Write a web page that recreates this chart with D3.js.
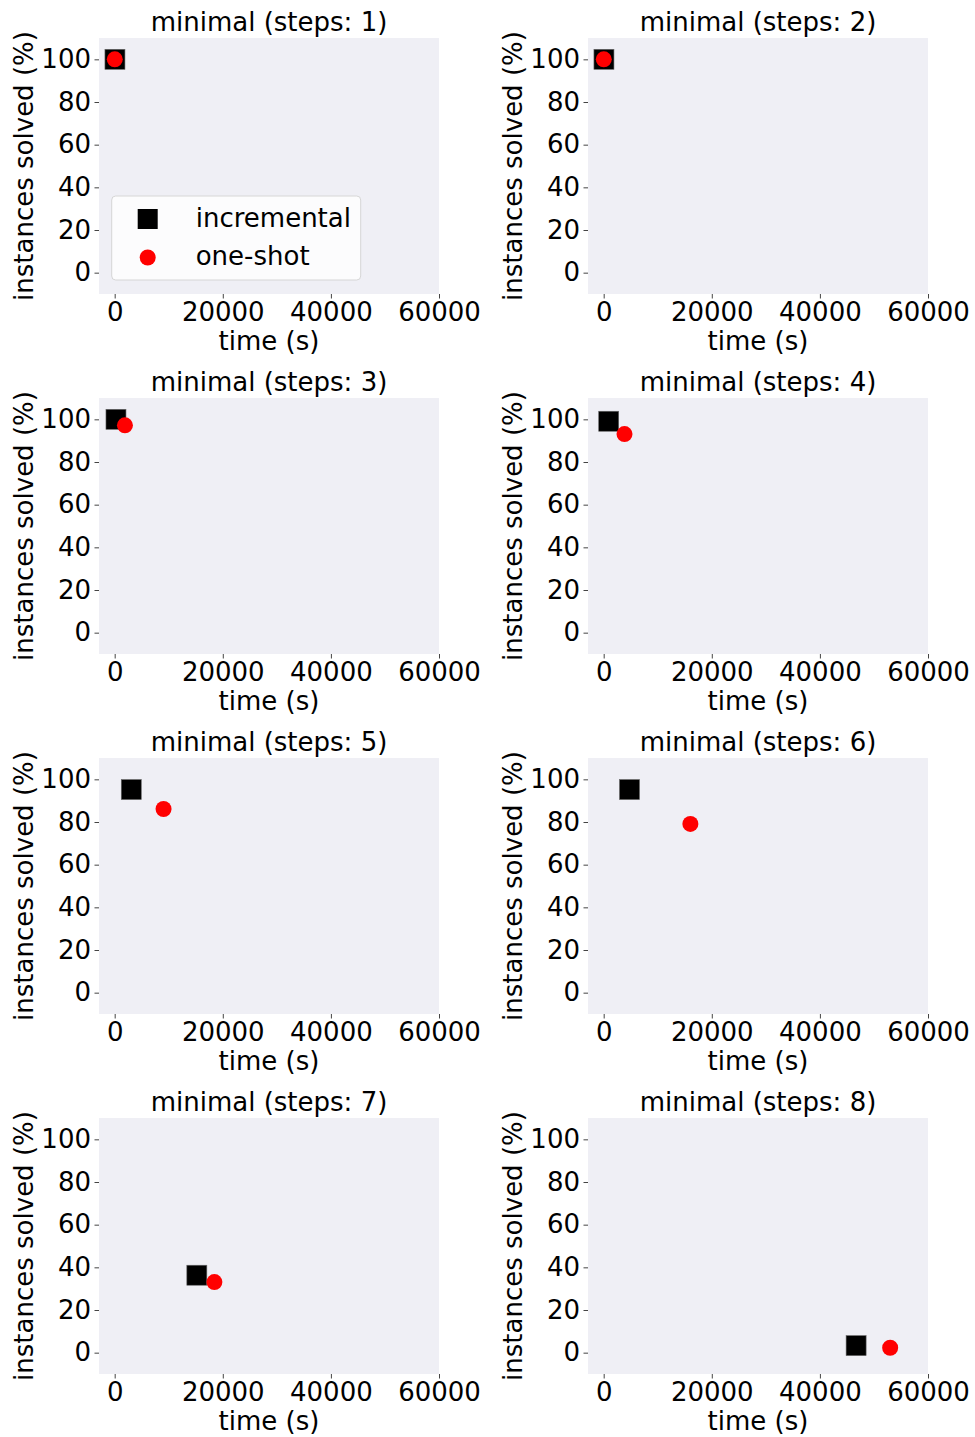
<!DOCTYPE html>
<html>
<head>
<meta charset="utf-8">
<script src="https://cdn.jsdelivr.net/npm/d3@7"></script>
<style>
  body { margin: 0; background: #fff; }
  svg text { font-family: "DejaVu Sans", sans-serif; fill: #000; }
</style>
</head>
<body>
<div id="chart"></div>
<script>
// steps per panel, and solved time / percentage for each approach
const steps = [1, 2, 3, 4, 5, 6, 7, 8];
const incTime = [50, 50, 240, 930, 3070, 4780, 15200, 46700];
const incSolved = [100, 100, 100, 99.1, 95.2, 95.2, 36.3, 3.3];
const oneTime = [20, 20, 1900, 3850, 9040, 16040, 18450, 53000];
const oneSolved = [100, 100, 97.2, 93.1, 86.1, 79.1, 33.1, 2.3];
const xTicks = [0, 20000, 40000, 60000];
const yTicks = [0, 20, 40, 60, 80, 100];

const width = 975, height = 1437;
const colLeft = [99, 588], rowTop = [38, 398, 758, 1118];
const pw = 340, ph = 256;
const fs = 26;

const svg = d3.select("#chart").append("svg")
  .attr("width", width).attr("height", height);

const x = d3.scaleLinear().domain([-2900, 60000]).range([0, pw]);
const y = d3.scaleLinear().domain([-10, 110]).range([ph, 0]);

steps.forEach((s, i) => {
  const g = svg.append("g")
    .attr("transform", `translate(${colLeft[i % 2]},${rowTop[Math.floor(i / 2)]})`);

  g.append("rect").attr("width", pw).attr("height", ph).attr("fill", "#efeff5");

  const xa = g.append("g").attr("transform", `translate(0,${ph})`)
    .call(d3.axisBottom(x).tickValues(xTicks).tickSize(4.5).tickPadding(4.5).tickFormat(d3.format("d")));
  const ya = g.append("g")
    .call(d3.axisLeft(y).tickValues(yTicks).tickSize(4.5).tickPadding(3.5));
  [xa, ya].forEach(a => {
    a.select(".domain").remove();
    a.selectAll(".tick line").attr("stroke", "#444").attr("stroke-width", 1);
    a.selectAll(".tick text").attr("font-size", fs).attr("fill", "#000")
      .style("font-family", "DejaVu Sans");
  });

  g.append("text").attr("x", pw / 2).attr("y", -7)
    .attr("text-anchor", "middle").attr("font-size", fs)
    .text(`minimal (steps: ${s})`);
  g.append("text").attr("x", pw / 2).attr("y", ph + 56)
    .attr("text-anchor", "middle").attr("font-size", fs).text("time (s)");
  g.append("text").attr("transform", `translate(-66,${ph / 2}) rotate(-90)`)
    .attr("text-anchor", "middle").attr("font-size", fs).text("instances solved (%)");

  g.append("rect")
    .attr("x", x(incTime[i]) - 10).attr("y", y(incSolved[i]) - 10)
    .attr("width", 20).attr("height", 20)
    .attr("fill", "#000").attr("stroke", "#666").attr("stroke-width", 0.6);
  g.append("circle")
    .attr("cx", x(oneTime[i])).attr("cy", y(oneSolved[i])).attr("r", 8)
    .attr("fill", "#ff0000");

  if (i === 0) {
    const lg = g.append("g").attr("transform", "translate(12.7,158)");
    lg.append("rect").attr("width", 249).attr("height", 84).attr("rx", 4)
      .attr("fill", "#ffffff").attr("fill-opacity", 0.8)
      .attr("stroke", "#d6d6d6").attr("stroke-width", 1);
    lg.append("rect").attr("x", 26).attr("y", 13).attr("width", 20).attr("height", 20)
      .attr("fill", "#000");
    lg.append("circle").attr("cx", 36).attr("cy", 61.5).attr("r", 8).attr("fill", "#ff0000");
    lg.append("text").attr("x", 84).attr("y", 31).attr("font-size", fs).text("incremental");
    lg.append("text").attr("x", 84).attr("y", 69).attr("font-size", fs).text("one-shot");
  }
});
</script>
</body>
</html>
